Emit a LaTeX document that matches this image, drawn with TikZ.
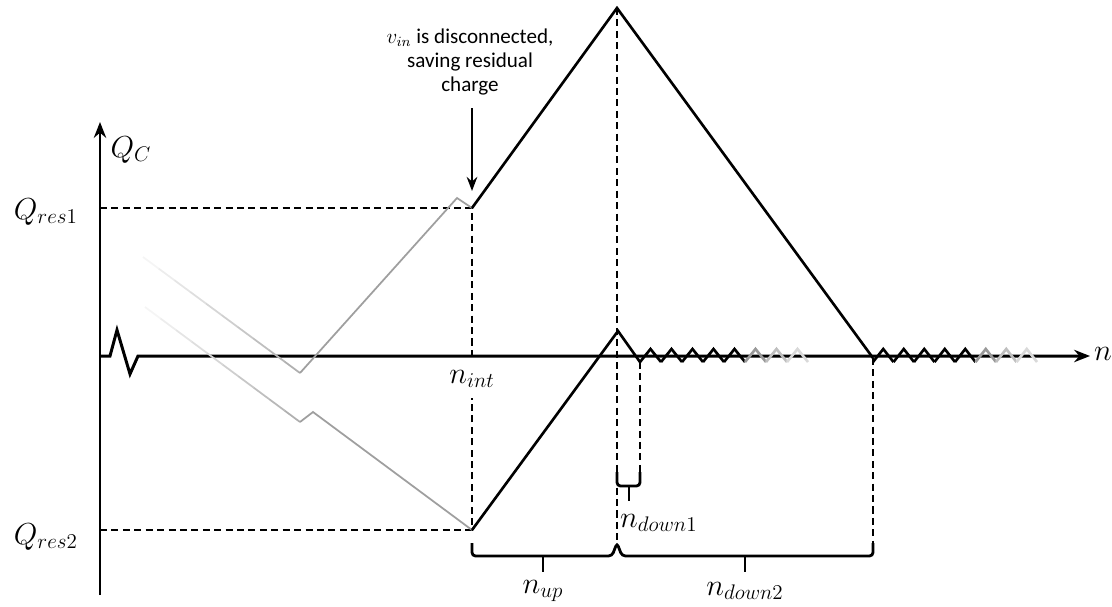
\documentclass[tikz,border=0pt]{standalone}
\usepackage{fontspec}
\setmainfont{Carlito}
\usetikzlibrary{arrows.meta}
\tikzset{
  axis/.style={line width=1.7pt,-{Stealth[length=9pt,width=7pt]}},
  trace/.style={line width=1.5pt,line join=miter},
  fadeline/.style={line width=1pt},
  guide/.style={line width=0.6pt,dash pattern=on 4pt off 2.5pt},
  bracebar/.style={line width=1.6pt,rounded corners=2pt},
  lbl/.style={font=\fontsize{18}{21}\selectfont},
}
\begin{document}
\begin{tikzpicture}[x=0.02cm,y=-0.02cm]
    \useasboundingbox (0,0) rectangle (1112,606);
    % axes
    \draw[axis] (100,595) -- (100,122);
    \draw[axis] (100,356) -- (110,356) -- (117,330) -- (130,374) -- (138,356) -- (1090,356);
    \node[lbl] (qc) at (131,150) {$Q_C$};
    \node[lbl] (nax) at (1103,354) {$n$};
    % guide lines
    \coordinate (r1) at (472,208);
    \coordinate (r2) at (472,530);
    \coordinate (pk) at (617,8);
    \draw[guide] (100,208) -- (r1) -- (472,357);
    \draw[guide] (100,530) -- (r2) -- (472,398);
    \draw[guide] (pk) -- (617,543);
    \draw[guide] (640,362) -- (640,472);
    \draw[guide] (873,358) -- (873,543);
    \node[lbl,anchor=east] (qres1) at (84,212) {$Q_{res1}$};
    \node[lbl,anchor=east] (qres2) at (84,537) {$Q_{res2}$};
    \node[lbl] (nint) at (472,379) {$n_{int}$};
    % faded history
    \foreach \i [evaluate=\i as \c using int(8+6*\i)] in {0,...,9}
        {\draw[fadeline,gray!\c] ({143+15.7*\i},{257+11.6*\i}) -- ({143+15.7*(\i+1)},{257+11.6*(\i+1)});
         \draw[fadeline,gray!\c] ({145+15.5*\i},{307+11.5*\i}) -- ({145+15.5*(\i+1)},{307+11.5*(\i+1)});}
    \draw[fadeline,gray!75,line join=miter] (300,373) -- (457,198) -- (r1);
    \draw[fadeline,gray!75,line join=miter] (300,422) -- (313,412) -- (r2);
    % charge traces
    \draw[trace] (r1) -- (pk) -- (873,358);
    \draw[trace] (r2) -- (618,331) -- (640,362);
    \foreach \i/\c in {0/black,1/black,2/black,3/black,4/black,5/gray!80,6/gray!50,7/gray!30}
        {\draw[trace,\c] ({640+21*\i},362) -- ({650.5+21*\i},349) -- ({661+21*\i},362);
         \draw[trace,\c] ({873+20.5*\i},362) -- ({883.25+20.5*\i},349) -- ({893.5+20.5*\i},362);}
    % annotation
    \node[align=center,font=\fontsize{12}{13.5}\selectfont] (note) at (470,62)
        {$v_{in}$ is disconnected,\\ saving residual\\ charge};
    \draw[line width=1.4pt,-{Stealth[length=8pt,width=6pt]}] (472,108) -- (472,191);
    % braces
    \draw[bracebar] (472,543) -- (472,556) -- (612,556) -- (617,543) -- (622,556) -- (873,556) -- (873,543);
    \draw[line width=1.6pt] (543,556) -- (543,572);
    \draw[line width=1.6pt] (745,556) -- (745,572);
    \draw[bracebar] (617,472) -- (617,486) -- (640,486) -- (640,472);
    \draw[line width=1.6pt] (629,486) -- (629,501);
    \node[lbl] (nup) at (543,591) {$n_{up}$};
    \node[lbl] (ndown2) at (745,591) {$n_{down2}$};
    \node[lbl,anchor=west] (ndown1) at (614,523) {$n_{down1}$};
\end{tikzpicture}
\end{document}
